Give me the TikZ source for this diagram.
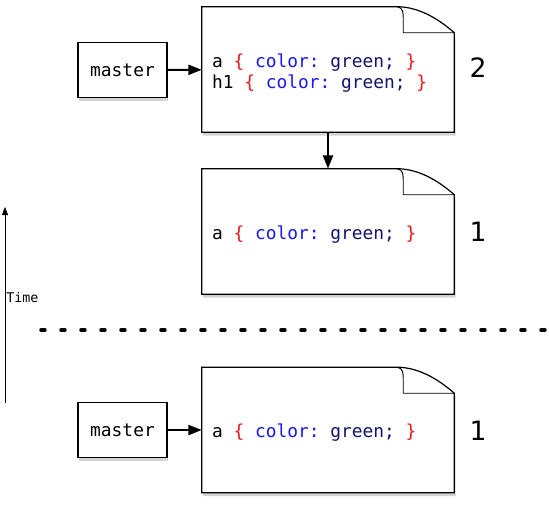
\documentclass[tikz,border=0pt]{standalone}
\usepackage{fontspec}
\setmonofont{DejaVu Sans Mono}
\setsansfont{DejaVu Sans}
\usetikzlibrary{arrows.meta,shadows,backgrounds,calc}

\definecolor{bracered}{RGB}{235,25,25}
\definecolor{propblue}{RGB}{25,25,235}
\definecolor{valnavy}{RGB}{20,20,110}

\newcommand{\msp}{\hbox to 0.602em{}}
\newcommand{\cssline}[1]{#1\msp\textcolor{bracered}{\{}\msp\textcolor{propblue}{color:}\msp\textcolor{valnavy}{green;}\msp\textcolor{bracered}{\}}}

\tikzset{
  pagebox/.style={minimum width=189pt, minimum height=93.75pt, inner sep=0pt},
  codetext/.style={anchor=west, inner sep=0pt, align=left,
    font=\ttfamily\fontsize{13.4}{15.75}\selectfont},
  refbox/.style={draw, line width=0.9pt, fill=white, minimum width=66.75pt, minimum height=41.25pt,
    font=\ttfamily\fontsize{13.4}{15.75}\selectfont,
    drop shadow={shadow xshift=1pt, shadow yshift=-2.5pt, opacity=0.35}},
  revnum/.style={font=\sffamily\fontsize{20}{24}\selectfont},
  thickarrow/.style={-{Triangle[length=10pt,width=7.5pt]}, line width=1.5pt},
}

\begin{document}
\begin{tikzpicture}[x=0.75pt,y=-0.75pt]
\useasboundingbox (0,0) rectangle (549,508);

% the three states of the history
\node[pagebox] (doc1) at (328,69.5) {};
\node[pagebox] (doc2) at (328,231.5) {};
\node[pagebox] (doc3) at (328,430) {};

\foreach \d in {doc1,doc2,doc3}{
  \filldraw[fill=white, draw=black, line width=0.9pt,
    drop shadow={shadow xshift=1pt, shadow yshift=-2.5pt, opacity=0.35}]
    (\d.north west) -- ($(\d.north east)+(-57,0)$)
    .. controls ($(\d.north east)+(-38,0)$) and ($(\d.north east)+(-18,10)$) .. ($(\d.north east)+(0,26)$)
    -- (\d.south east) -- (\d.south west) -- cycle;
  \draw[line width=0.7pt] ($(\d.north east)+(-57,0)$)
    .. controls ($(\d.north east)+(-51,1)$) and ($(\d.north east)+(-51,6)$) .. ($(\d.north east)+(-51,13)$)
    -- ($(\d.north east)+(-51,26)$) -- ($(\d.north east)+(0,26)$);
}

\node[codetext] (code1) at ($(doc1.west)+(10,4)$) {\cssline{a}\\\cssline{h1}};
\node[codetext] (code2) at ($(doc2.west)+(10,3)$) {\cssline{a}};
\node[codetext] (code3) at ($(doc3.west)+(10,3)$) {\cssline{a}};

% revision counts
\node[revnum] (rev1) at (478,68) {2};
\node[revnum] (rev2) at (478,232) {1};
\node[revnum] (rev3) at (478,431) {1};

% branch references
\node[refbox] (master1) at (122.5,70) {master};
\node[refbox] (master2) at (122.5,430) {master};

\draw[thickarrow] (master1) -- (doc1);
\draw[thickarrow] (master2) -- (doc3);
\draw[thickarrow] (doc1.south) -- (doc2.north);

% time axis
\coordinate (tbot) at (5,403);
\coordinate (ttop) at (5,207);
\draw[-{Triangle[length=6pt,width=4.5pt]}, line width=0.6pt] (tbot) -- (ttop);
\node[anchor=west, inner sep=0pt, font=\ttfamily\fontsize{10}{12}\selectfont] (timelbl) at (6,298) {Time};

% cut between before and after
\coordinate (cutl) at (41,330);
\coordinate (cutr) at (549,330);
\draw[line width=2.6pt, line cap=round, dash pattern=on 3pt off 12pt] (cutl) -- (cutr);
\end{tikzpicture}
\end{document}
